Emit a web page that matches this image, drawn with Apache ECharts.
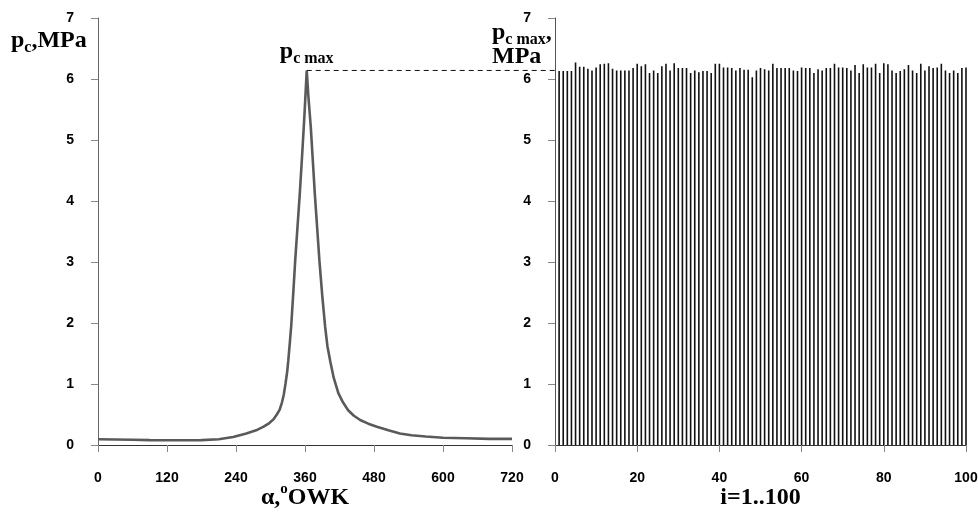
<!DOCTYPE html>
<html><head><meta charset="utf-8">
<script src="https://cdn.jsdelivr.net/npm/echarts@6/dist/echarts.min.js"></script>
<style>html,body{margin:0;padding:0;background:#fff}#c{width:978px;height:512px}</style>
</head><body><div id="c"></div>
<script>
// Left chart: cylinder pressure vs crank angle
const crankAngle = [0,30,60,90,120,150,180,210,235,258,275,288,298,305,311,316,320,323,326,329,331,334,336,340,343,347,351,355,359,363,366,370,374,377,381,385,390,395,399,404,410,418,426,435,445,456,470,485,505,525,545,570,600,640,680,720];
const cylPressure = [0.095,0.09,0.085,0.08,0.078,0.077,0.08,0.095,0.13,0.19,0.24,0.30,0.36,0.42,0.50,0.58,0.70,0.82,1.00,1.20,1.39,1.72,1.95,2.55,3.03,3.58,4.13,4.75,5.40,6.14,5.70,5.22,4.60,4.13,3.58,3.03,2.45,1.94,1.62,1.37,1.10,0.85,0.70,0.57,0.48,0.41,0.35,0.30,0.24,0.19,0.16,0.14,0.12,0.11,0.10,0.10];
// Right chart: peak pressure of cycles i = 1..100
const peakPressure = [6.13,6.13,6.13,6.13,6.27,6.20,6.20,6.17,6.14,6.19,
6.24,6.25,6.26,6.17,6.14,6.14,6.14,6.14,6.18,6.25,
6.21,6.24,6.10,6.14,6.10,6.21,6.25,6.14,6.26,6.18,
6.18,6.18,6.10,6.14,6.11,6.13,6.13,6.10,6.25,6.25,
6.19,6.19,6.18,6.14,6.18,6.15,6.15,6.03,6.14,6.18,
6.16,6.14,6.25,6.18,6.18,6.18,6.18,6.14,6.13,6.19,
6.18,6.18,6.10,6.16,6.14,6.18,6.18,6.25,6.19,6.19,
6.18,6.14,6.23,6.10,6.24,6.19,6.19,6.25,6.10,6.26,
6.24,6.14,6.10,6.13,6.16,6.23,6.14,6.10,6.25,6.14,
6.21,6.18,6.19,6.25,6.14,6.10,6.14,6.10,6.18,6.19];
const cycleIndex = peakPressure.map((_, k) => k + 1);
const angleTicks = {min: 0, max: 720, interval: 120};
const cycleTicks = {min: 0, max: 100, interval: 20};
const pressureTicks = {min: 0, max: 7, interval: 1};

const SERIF = '"Liberation Serif","Times New Roman",serif';
const SANS = '"Liberation Sans",Arial,sans-serif';
const nameRich = {
  n: {fontFamily: SERIF, fontWeight: 'bold', fontSize: 24, color: '#000'},
  sub: {fontFamily: SERIF, fontWeight: 'bold', fontSize: 16, color: '#000', verticalAlign: 'bottom', padding: [0,0,-3,0]},
  sup: {fontFamily: SERIF, fontWeight: 'bold', fontSize: 15, color: '#000', verticalAlign: 'top', padding: [-4,0,0,0]}
};
const tickLabel = {fontFamily: SANS, fontWeight: 'bold', fontSize: 14, color: '#000'};
function valAxis(grid, t, extra) {
  return Object.assign({
    type: 'value', gridIndex: grid, min: t.min, max: t.max, interval: t.interval,
    axisLine: {show: true, onZero: false, lineStyle: {color: '#333', width: 1}},
    axisTick: {show: true, length: 7, lineStyle: {color: '#888'}},
    splitLine: {show: false},
    axisLabel: Object.assign({margin: 26}, tickLabel)
  }, extra || {});
}
const chart = echarts.init(document.getElementById('c'), null, {renderer: 'canvas'});
chart.setOption({
  animation: false,
  backgroundColor: '#fff',
  title: [
    {text: '{n|p}{sub|c}{n|,MPa}', left: 6, top: 24, textStyle: {rich: nameRich}},
    {text: '{n|p}{sub|c max}{n|,}\n{n|MPa}', left: 487, top: 16, textStyle: {rich: nameRich, lineHeight: 24}}
  ],
  grid: [
    {left: 98, right: 466, top: 18, bottom: 67, containLabel: false, outerBoundsMode: 'none'},
    {left: 555, right: 12, top: 18, bottom: 67, containLabel: false, outerBoundsMode: 'none'}
  ],
  xAxis: [
    valAxis(0, angleTicks, {name: '{n|α,}{sup|o}{n|OWK}', nameLocation: 'middle', nameGap: 41, nameMoveOverlap: false, nameTextStyle: {rich: nameRich}}),
    valAxis(1, cycleTicks, {name: '{n|i=1..100}', nameLocation: 'middle', nameGap: 41, nameMoveOverlap: false, nameTextStyle: {rich: nameRich}})
  ],
  yAxis: [
    valAxis(0, pressureTicks, {axisLabel: Object.assign({margin: 24}, tickLabel), axisLine: {show: true, onZero: false, lineStyle: {color: '#666'}}}),
    valAxis(1, pressureTicks, {axisLabel: Object.assign({margin: 24}, tickLabel), axisLine: {show: true, onZero: false, lineStyle: {color: '#555'}}})
  ],
  series: [
    {
      type: 'line', xAxisIndex: 0, yAxisIndex: 0,
      data: crankAngle.map((a, k) => [a, cylPressure[k]]),
      showSymbol: false, symbol: 'none',
      lineStyle: {color: '#5a5a5a', width: 2.6},
      markPoint: {
        symbol: 'circle', symbolSize: 0,
        data: [{type: 'max'}],
        label: {show: true, position: 'top', distance: 7, formatter: '{n|p}{sub|c max}', rich: nameRich}
      }
    },
    {
      type: 'bar', xAxisIndex: 1, yAxisIndex: 1,
      data: cycleIndex.map((i, k) => [i, peakPressure[k]]),
      barWidth: 1.6,
      itemStyle: {color: '#111'}
    }
  ]
});
// dashed guide line from the peak of the curve to the right-hand axis
const peakVal = Math.max.apply(null, cylPressure);
const peakAng = crankAngle[cylPressure.indexOf(peakVal)];
const p0 = chart.convertToPixel({gridIndex: 0}, [peakAng, peakVal]);
const p1 = chart.convertToPixel({gridIndex: 1}, [0, peakVal]);
chart.setOption({
  graphic: [{type: 'line', z: 10, shape: {x1: p0[0], y1: p0[1], x2: p1[0], y2: p1[1]}, style: {stroke: '#111', lineWidth: 1, lineDash: [5, 4]}}]
});
</script>
</body></html>
